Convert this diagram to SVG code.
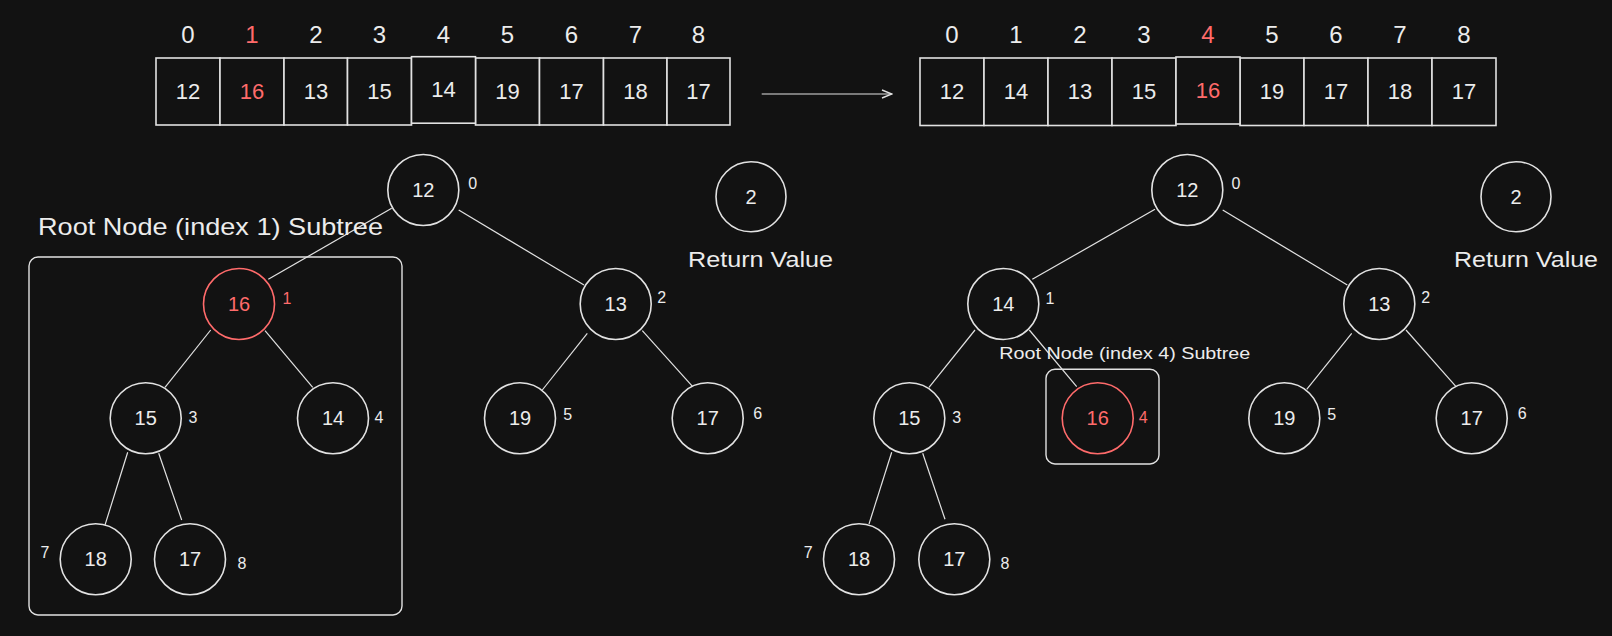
<svg xmlns="http://www.w3.org/2000/svg" width="1612" height="636" viewBox="0 0 1612 636">
<defs>
<style>
.bg{fill:#121212}
.c{fill:#121212;stroke:#e2e2e2;stroke-width:1.6}
.cr{fill:#121212;stroke:#ff6b6b;stroke-width:1.6}
.cell{fill:#121212;stroke:#e2e2e2;stroke-width:1.6}
.box{fill:none;stroke:#e2e2e2;stroke-width:1.4}
.ln{fill:none;stroke:#e2e2e2;stroke-width:1.2}
text{font-family:"Liberation Sans",Arial,sans-serif;fill:#ececec}
.v{font-size:20px;text-anchor:middle}
.av{font-size:22px;text-anchor:middle}
.ai{font-size:24px;text-anchor:middle}
.ix{font-size:16px;text-anchor:middle}
.lbl{font-size:22px}
.red{fill:#ff6b6b}
</style>
<marker id="ah" viewBox="0 0 12 10" refX="11" refY="5" markerWidth="12" markerHeight="10" markerUnits="userSpaceOnUse" orient="auto">
<path d="M1,1 L11,5 L1,9" fill="none" stroke="#e2e2e2" stroke-width="1.4"/>
</marker>
</defs>
<rect class="bg" x="0" y="0" width="1612" height="636"/>

<g id="connectors">
<line class="ln" x1="391.7" y1="208.3" x2="268.3" y2="279.3"/>
<line class="ln" x1="458.7" y1="210" x2="584" y2="285"/>
<line class="ln" x1="210.7" y1="330" x2="165" y2="387.3"/>
<line class="ln" x1="265" y1="330.7" x2="312.7" y2="387.3"/>
<line class="ln" x1="587.3" y1="333.3" x2="542.3" y2="390"/>
<line class="ln" x1="642.3" y1="330.7" x2="692.7" y2="386.7"/>
<line class="ln" x1="127.7" y1="452.3" x2="105" y2="525"/>
<line class="ln" x1="158.7" y1="453.3" x2="181.7" y2="520"/>
<line class="ln" x1="1155" y1="209.3" x2="1032.3" y2="279.3"/>
<line class="ln" x1="1222.7" y1="210" x2="1347.3" y2="285"/>
<line class="ln" x1="975" y1="330" x2="929" y2="387.3"/>
<line class="ln" x1="1029.3" y1="330" x2="1076.7" y2="386.7"/>
<line class="ln" x1="1351.7" y1="333.3" x2="1306.7" y2="389.3"/>
<line class="ln" x1="1406" y1="330" x2="1456.7" y2="387.3"/>
<line class="ln" x1="891.7" y1="452.3" x2="869" y2="524"/>
<line class="ln" x1="922.7" y1="453.3" x2="945" y2="519.3"/>
<line class="ln" x1="761.7" y1="94" x2="892" y2="94" marker-end="url(#ah)"/>
</g>

<g id="array-left">
<rect class="cell" x="156" y="58" width="64" height="67"/>
<rect class="cell" x="220" y="58" width="64" height="67"/>
<rect class="cell" x="284" y="58" width="63.5" height="67"/>
<rect class="cell" x="347.5" y="58" width="64" height="67"/>
<rect class="cell" x="475.5" y="58" width="64" height="67"/>
<rect class="cell" x="539.5" y="58" width="64" height="67"/>
<rect class="cell" x="603.5" y="58" width="63.5" height="67"/>
<rect class="cell" x="667" y="58" width="63" height="67"/>
<rect class="cell" x="411.5" y="56.7" width="64" height="66.5"/>
<text class="ai" x="188" y="42.5">0</text>
<text class="ai red" x="252" y="42.5">1</text>
<text class="ai" x="316" y="42.5">2</text>
<text class="ai" x="379.5" y="42.5">3</text>
<text class="ai" x="443.5" y="42.5">4</text>
<text class="ai" x="507.5" y="42.5">5</text>
<text class="ai" x="571.5" y="42.5">6</text>
<text class="ai" x="635.5" y="42.5">7</text>
<text class="ai" x="698.5" y="42.5">8</text>
<text class="av" x="188" y="99">12</text>
<text class="av red" x="252" y="99">16</text>
<text class="av" x="316" y="99">13</text>
<text class="av" x="379.5" y="99">15</text>
<text class="av" x="443.5" y="97">14</text>
<text class="av" x="507.5" y="99">19</text>
<text class="av" x="571.5" y="99">17</text>
<text class="av" x="635.5" y="99">18</text>
<text class="av" x="698.5" y="99">17</text>
</g>

<g id="array-right">
<rect class="cell" x="920" y="58" width="64" height="67.5"/>
<rect class="cell" x="984" y="58" width="64" height="67.5"/>
<rect class="cell" x="1048" y="58" width="64" height="67.5"/>
<rect class="cell" x="1112" y="58" width="64" height="67.5"/>
<rect class="cell" x="1240" y="58" width="64" height="67.5"/>
<rect class="cell" x="1304" y="58" width="64" height="67.5"/>
<rect class="cell" x="1368" y="58" width="64" height="67.5"/>
<rect class="cell" x="1432" y="58" width="64" height="67.5"/>
<rect class="cell" x="1176" y="57" width="64" height="67"/>
<text class="ai" x="952" y="42.5">0</text>
<text class="ai" x="1016" y="42.5">1</text>
<text class="ai" x="1080" y="42.5">2</text>
<text class="ai" x="1144" y="42.5">3</text>
<text class="ai red" x="1208" y="42.5">4</text>
<text class="ai" x="1272" y="42.5">5</text>
<text class="ai" x="1336" y="42.5">6</text>
<text class="ai" x="1400" y="42.5">7</text>
<text class="ai" x="1464" y="42.5">8</text>
<text class="av" x="952" y="99">12</text>
<text class="av" x="1016" y="99">14</text>
<text class="av" x="1080" y="99">13</text>
<text class="av" x="1144" y="99">15</text>
<text class="av red" x="1208" y="98">16</text>
<text class="av" x="1272" y="99">19</text>
<text class="av" x="1336" y="99">17</text>
<text class="av" x="1400" y="99">18</text>
<text class="av" x="1464" y="99">17</text>
</g>

<g id="subtree-box-left">
<rect class="box" x="29" y="257" width="373" height="358" rx="9"/>
<text class="lbl" x="38" y="235" font-size="24" textLength="345" lengthAdjust="spacingAndGlyphs" style="font-size:24px">Root Node (index 1) Subtree</text>
</g>

<g id="L-node-0"><circle class="c" cx="423.3" cy="190" r="35.5"/><text class="v" x="423.3" y="197">12</text><text class="ix" x="472.7" y="189">0</text></g>
<g id="L-node-1"><circle class="cr" cx="239" cy="304" r="35.5"/><text class="v red" x="239" y="311">16</text><text class="ix red" x="287" y="304">1</text></g>
<g id="L-node-2"><circle class="c" cx="615.7" cy="304" r="35.5"/><text class="v" x="615.7" y="311">13</text><text class="ix" x="661.7" y="303">2</text></g>
<g id="L-node-3"><circle class="c" cx="145.7" cy="418.3" r="35.5"/><text class="v" x="145.7" y="425.3">15</text><text class="ix" x="193" y="423">3</text></g>
<g id="L-node-4"><circle class="c" cx="333" cy="418.3" r="35.5"/><text class="v" x="333" y="425.3">14</text><text class="ix" x="379" y="423">4</text></g>
<g id="L-node-5"><circle class="c" cx="520" cy="418.3" r="35.5"/><text class="v" x="520" y="425.3">19</text><text class="ix" x="567.7" y="420">5</text></g>
<g id="L-node-6"><circle class="c" cx="707.7" cy="418.3" r="35.5"/><text class="v" x="707.7" y="425.3">17</text><text class="ix" x="757.7" y="419">6</text></g>
<g id="L-node-7"><circle class="c" cx="95.7" cy="559.3" r="35.5"/><text class="v" x="95.7" y="566.3">18</text><text class="ix" x="45" y="558">7</text></g>
<g id="L-node-8"><circle class="c" cx="190" cy="559.3" r="35.5"/><text class="v" x="190" y="566.3">17</text><text class="ix" x="242" y="569">8</text></g>
<g id="L-return"><circle class="c" cx="751" cy="196.7" r="35"/><text class="v" x="751" y="203.7">2</text><text class="lbl" x="688" y="267" textLength="145" lengthAdjust="spacingAndGlyphs">Return Value</text></g>

<g id="subtree-box-right">
<rect class="box" x="1046" y="369.3" width="113" height="94.7" rx="9"/>
<text x="999.3" y="359.3" style="font-size:17px" textLength="251" lengthAdjust="spacingAndGlyphs">Root Node (index 4) Subtree</text>
</g>

<g id="R-node-0"><circle class="c" cx="1187.3" cy="190" r="35.5"/><text class="v" x="1187.3" y="197">12</text><text class="ix" x="1236" y="189">0</text></g>
<g id="R-node-1"><circle class="c" cx="1003.3" cy="304" r="35.5"/><text class="v" x="1003.3" y="311">14</text><text class="ix" x="1050" y="304">1</text></g>
<g id="R-node-2"><circle class="c" cx="1379.3" cy="304" r="35.5"/><text class="v" x="1379.3" y="311">13</text><text class="ix" x="1425.7" y="303">2</text></g>
<g id="R-node-3"><circle class="c" cx="909.3" cy="418.3" r="35.5"/><text class="v" x="909.3" y="425.3">15</text><text class="ix" x="956.7" y="423">3</text></g>
<g id="R-node-4"><circle class="cr" cx="1097.7" cy="418.3" r="35.5"/><text class="v red" x="1097.7" y="425.3">16</text><text class="ix red" x="1143.3" y="423">4</text></g>
<g id="R-node-5"><circle class="c" cx="1284.3" cy="418.3" r="35.5"/><text class="v" x="1284.3" y="425.3">19</text><text class="ix" x="1331.7" y="420">5</text></g>
<g id="R-node-6"><circle class="c" cx="1471.7" cy="418.3" r="35.5"/><text class="v" x="1471.7" y="425.3">17</text><text class="ix" x="1522.3" y="419">6</text></g>
<g id="R-node-7"><circle class="c" cx="859" cy="559.3" r="35.5"/><text class="v" x="859" y="566.3">18</text><text class="ix" x="808.3" y="558">7</text></g>
<g id="R-node-8"><circle class="c" cx="954.3" cy="559.3" r="35.5"/><text class="v" x="954.3" y="566.3">17</text><text class="ix" x="1005" y="569">8</text></g>
<g id="R-return"><circle class="c" cx="1516" cy="196.7" r="35"/><text class="v" x="1516" y="203.7">2</text><text class="lbl" x="1454" y="266.7" textLength="144" lengthAdjust="spacingAndGlyphs">Return Value</text></g>
</svg>
